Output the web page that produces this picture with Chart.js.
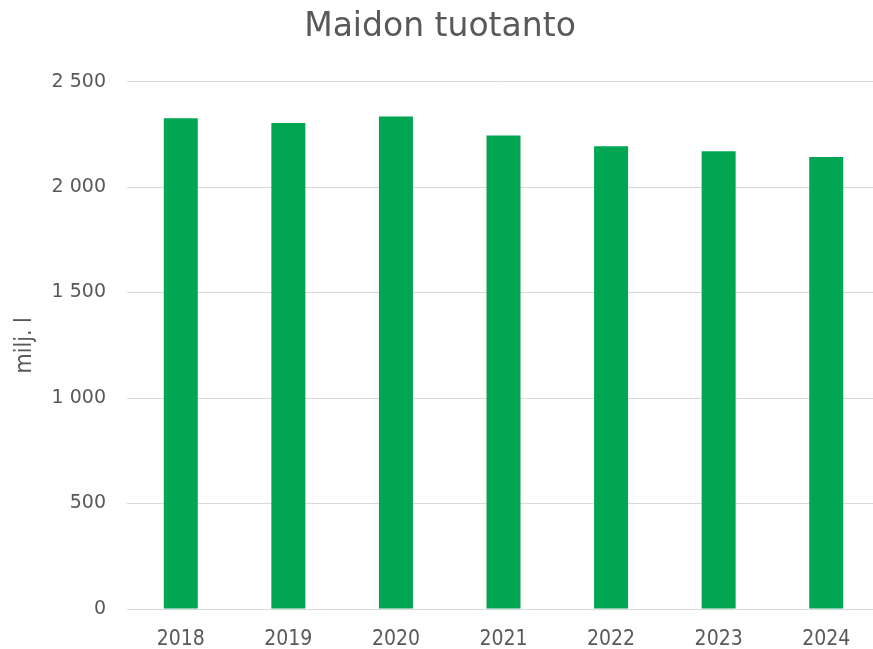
<!DOCTYPE html>
<html lang="fi">
<head>
<meta charset="utf-8">
<title>Maidon tuotanto</title>
<script src="https://cdn.jsdelivr.net/npm/chart.js@4/dist/chart.umd.min.js"></script>
<style>
  html, body { margin: 0; padding: 0; background: #fff; overflow: hidden; }
  #wrap { width: 873px; height: 649px; overflow: hidden; }
</style>
</head>
<body>
<div id="wrap"><canvas id="milkChart" width="880" height="670"></canvas></div>
<script>
// Maidon tuotanto, milj. l
const years     = ['2018', '2019', '2020', '2021', '2022', '2023', '2024'];
const milkLitre = [2326, 2304, 2334, 2245, 2193, 2170, 2142];
const yTicks    = [0, 500, 1000, 1500, 2000, 2500];

const TEXT = '#595959';
const GRID = '#d9d9d9';
const BAR  = '#00a651';

// "2500" -> "2 500"
function fmt(v) {
  return String(v).replace(/\B(?=(\d{3})+(?!\d))/g, ' ');
}

new Chart(document.getElementById('milkChart'), {
  type: 'bar',
  data: {
    labels: years,
    datasets: [{
      data: milkLitre,
      backgroundColor: BAR,
      borderWidth: 0,
      barPercentage: 0.316,
      categoryPercentage: 1
    }]
  },
  options: {
    responsive: false,
    devicePixelRatio: 1,
    animation: false,
    layout: { padding: { left: 0, right: 0, top: 0, bottom: 0 } },
    plugins: {
      legend: { display: false },
      tooltip: { enabled: false },
      title: {
        display: true,
        text: 'Maidon tuotanto',
        color: TEXT,
        font: { family: 'DejaVu Sans', size: 33, weight: 'normal', lineHeight: 1.2 },
        padding: { top: 8, bottom: 34 }
      }
    },
    scales: {
      x: {
        grid: { display: false, drawTicks: false },
        border: { display: true, color: GRID, width: 1 },
        ticks: {
          color: TEXT,
          padding: 20,
          font: { family: "'DejaVu Sans Condensed', sans-serif", size: 21, lineHeight: 1 }
        }
      },
      y: {
        min: 0,
        max: 2500,
        afterBuildTicks: axis => { axis.ticks = yTicks.map(v => ({ value: v })); },
        afterFit: axis => { axis.width = 127; },
        grid: { color: GRID, lineWidth: 1, drawTicks: false },
        border: { display: false },
        ticks: {
          color: TEXT,
          padding: 21,
          font: { family: 'DejaVu Sans', size: 19 },
          callback: v => fmt(v)
        },
        title: {
          display: true,
          text: 'milj. l',
          color: TEXT,
          padding: { top: 11, bottom: 0 },
          font: { family: 'DejaVu Sans Condensed', size: 23, lineHeight: 1.2 }
        }
      }
    }
  }
});
</script>
</body>
</html>
